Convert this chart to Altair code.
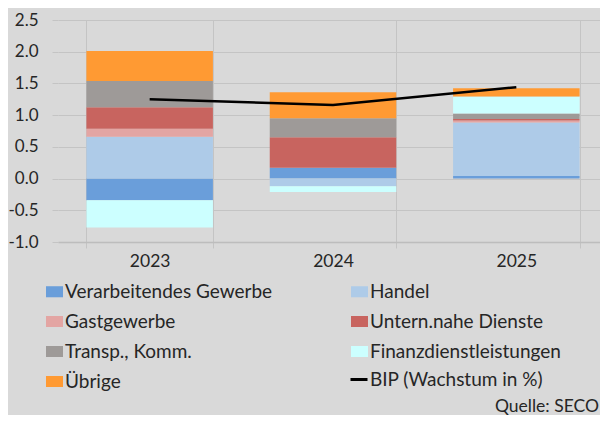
import altair as alt
import pandas as pd

years = ["2023", "2024", "2025"]
sectors = ["Verarbeitendes Gewerbe", "Handel", "Gastgewerbe", "Untern.nahe Dienste",
           "Transp., Komm.", "Finanzdienstleistungen", "Übrige"]
sector_colors = ["#6A9EDA", "#AECBE8", "#E3A5A3", "#C8645F", "#9E9A98", "#CCFFFF", "#FF9A33"]

verarb = [-0.34, 0.17, 0.04]
handel = [0.66, -0.12, 0.845]
gast = [0.125, 0.0, 0.03]
untern = [0.34, 0.48, 0.025]
transp = [0.415, 0.30, 0.085]
finanz = [-0.43, -0.09, 0.27]
uebrige = [0.47, 0.41, 0.13]

bip_label = "BIP (Wachstum in %)"
bip = [1.25, 1.16, 1.44]
bip_color = "#000000"

y_ticks = [-1.0, -0.5, 0.0, 0.5, 1.0, 1.5, 2.0, 2.5]
source_note = "Quelle: SECO"

series = [verarb, handel, gast, untern, transp, finanz, uebrige]
rows = []
for k, (name, vals) in enumerate(zip(sectors, series)):
    for yr, v in zip(years, vals):
        rows.append({"Jahr": yr, "Sektor": name, "Wert": v, "ord": k})
bars_df = pd.DataFrame(rows)
line_df = pd.DataFrame({"Jahr": years, "Wert": bip, "Reihe": [bip_label] * len(years)})
note_df = pd.DataFrame({"t": [source_note]})

FONT = "Lato"
TEXT = "#262626"
GRID = "#C4C4C4"
BG = "#D9D9D9"

rect_path = "M-1,-0.65H1V0.65H-1Z"

fill = alt.Fill(
    "Sektor:N",
    scale=alt.Scale(domain=sectors, range=sector_colors),
    legend=alt.Legend(
        title=None, orient="none", legendX=-13, legendY=262, columns=2, direction="horizontal",
        columnPadding=77, rowPadding=10, padding=0,
        symbolType=rect_path, symbolSize=289, symbolStrokeWidth=0, symbolOpacity=1,
        labelFont=FONT, labelFontSize=19, labelColor=TEXT, labelOffset=1, labelLimit=400,
    ),
)

stroke = alt.Stroke(
    "Reihe:N",
    scale=alt.Scale(domain=[bip_label], range=[bip_color]),
    legend=alt.Legend(
        title=None, orient="none", legendX=291, legendY=349.5, padding=0,
        symbolType="stroke", symbolSize=289, symbolStrokeWidth=3,
        labelFont=FONT, labelFontSize=19, labelColor=TEXT, labelOffset=1, labelLimit=400,
    ),
)

x = alt.X(
    "Jahr:N", sort=years, title=None,
    scale=alt.Scale(paddingInner=0.31, paddingOuter=0.155),
    axis=alt.Axis(labelAngle=0, tickBand="extent", grid=True, gridColor=GRID, gridWidth=1,
                  tickColor=GRID, tickSize=6, domainColor="#BDBDBD", domainWidth=1.5,
                  labelFont=FONT, labelFontSize=17.5, labelColor=TEXT, labelPadding=4),
)

y = alt.Y(
    "Wert:Q", title=None,
    scale=alt.Scale(domain=[-1, 2.5], nice=False, zero=False),
    axis=alt.Axis(values=y_ticks, labelExpr="replace(format(datum.value, '.1f'), '−', '-')",
                  domain=False, gridColor=GRID, gridWidth=1, tickColor=GRID, tickSize=6,
                  labelFont=FONT, labelFontSize=17, labelColor=TEXT, labelPadding=14),
)

bars = alt.Chart(bars_df).mark_bar().encode(
    x=x, y=y, fill=fill, order=alt.Order("ord:Q")
)

line = alt.Chart(line_df).mark_line(strokeWidth=2.5).encode(
    x=x, y=y, stroke=stroke
)

note = alt.Chart(note_df).mark_text(
    align="right", baseline="alphabetic", font=FONT, fontSize=17.5, color=TEXT
).encode(text="t:N", x=alt.value(541), y=alt.value(392))

chart = alt.layer(bars, line, note).properties(
    width=550, height=222,
    padding={"left": 50, "top": 12, "right": -8, "bottom": 173},
    autosize=alt.AutoSizeParams(type="none"),
    background=BG,
).configure_view(stroke=None)

chart.save("out.html", embed_options={"renderer": "svg", "actions": False})
